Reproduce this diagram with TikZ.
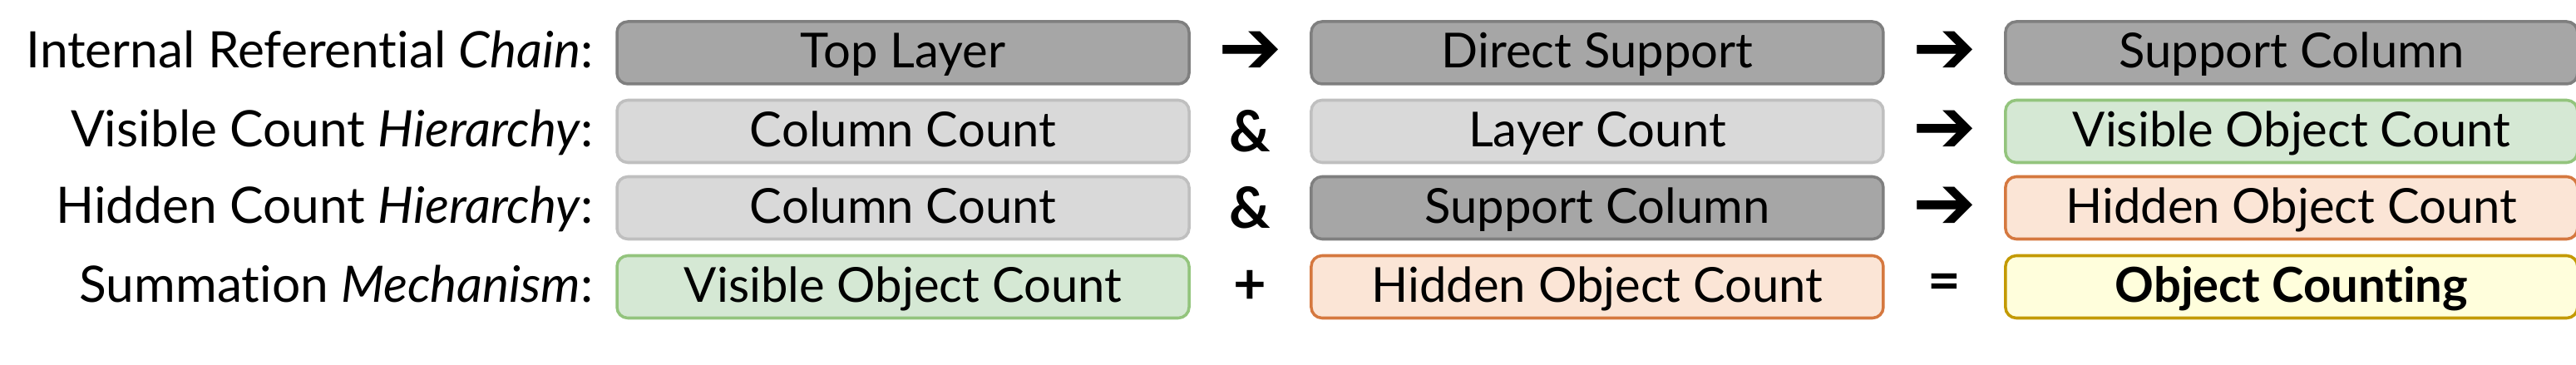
\documentclass[tikz,border=0pt]{standalone}
\usepackage{fontspec}
\setmainfont{Lato}[Ligatures=NoCommon]
\newfontfamily\symfont{DejaVu Sans}
\usetikzlibrary{positioning}

\definecolor{darkfill}{HTML}{A6A6A6}
\definecolor{darkline}{HTML}{7F7F7F}
\definecolor{lightfill}{HTML}{D9D9D9}
\definecolor{lightline}{HTML}{BFBFBF}
\definecolor{greenfill}{HTML}{D5E8D4}
\definecolor{greenline}{HTML}{93C47D}
\definecolor{orangefill}{HTML}{FBE5D6}
\definecolor{orangeline}{HTML}{D5783F}
\definecolor{yellowfill}{HTML}{FFFEDC}
\definecolor{yellowline}{HTML}{C39A00}

\begin{document}
\begin{tikzpicture}[node distance=0pt,
    box/.style={draw, rectangle, rounded corners=0.13cm, line width=1pt, minimum width=6.88cm, minimum height=0.75cm, inner sep=0pt, text height=0.5cm, text depth=0.13cm, font=\fontsize{16.5}{20}\selectfont},
    darkbox/.style={box, fill=darkfill, draw=darkline},
    lightbox/.style={box, fill=lightfill, draw=lightline},
    greenbox/.style={box, fill=greenfill, draw=greenline},
    orangebox/.style={box, fill=orangefill, draw=orangeline},
    yellowbox/.style={box, fill=yellowfill, draw=yellowline, font=\fontsize{16.5}{20}\selectfont\bfseries},
    op/.style={minimum width=1.42cm, inner sep=0pt, font=\fontsize{19.5}{22}\selectfont\bfseries},
    arrowop/.style={op, font=\fontsize{26}{28}\selectfont\symfont},
    rowlabel/.style={inner sep=0pt, text height=0.5cm, text depth=0.13cm, font=\fontsize{17.2}{20}\selectfont}]
    \useasboundingbox (0,0) rectangle (30.98,4.39);

    % row 1: chain
    \node[darkbox] (chainA) at (10.86,3.755) {Top Layer};
    \node[arrowop, right=of chainA] (chainOpA) {➔};
    \node[darkbox, right=of chainOpA] (chainB) {Direct Support};
    \node[arrowop, right=of chainB] (chainOpB) {➔};
    \node[darkbox, right=of chainOpB] (chainC) {Support Column};
    \node[rowlabel, left=0.26cm of chainA] (chainLabel) {Internal Referential \textit{Chain}:};

    % row 2: visible count
    \node[lightbox] (visA) at (10.86,2.81) {Column Count};
    \node[op, right=of visA] (visOpA) {\&};
    \node[lightbox, right=of visOpA] (visB) {Layer Count};
    \node[arrowop, right=of visB] (visOpB) {➔};
    \node[greenbox, right=of visOpB] (visC) {Visible Object Count};
    \node[rowlabel, left=0.26cm of visA] (visLabel) {Visible Count \textit{Hierarchy}:};

    % row 3: hidden count
    \node[lightbox] (hidA) at (10.86,1.89) {Column Count};
    \node[op, right=of hidA] (hidOpA) {\&};
    \node[darkbox, right=of hidOpA] (hidB) {Support Column};
    \node[arrowop, right=of hidB] (hidOpB) {➔};
    \node[orangebox, right=of hidOpB] (hidC) {Hidden Object Count};
    \node[rowlabel, left=0.26cm of hidA] (hidLabel) {Hidden Count \textit{Hierarchy}:};

    % row 4: summation
    \node[greenbox] (sumA) at (10.86,0.94) {Visible Object Count};
    \node[op, right=of sumA] (sumOpA) {+};
    \node[orangebox, right=of sumOpA] (sumB) {Hidden Object Count};
    \node[op, right=of sumB] (sumOpB) {=};
    \node[yellowbox, right=of sumOpB] (sumC) {Object Counting};
    \node[rowlabel, left=0.26cm of sumA] (sumLabel) {Summation \textit{Mechanism}:};
\end{tikzpicture}
\end{document}
